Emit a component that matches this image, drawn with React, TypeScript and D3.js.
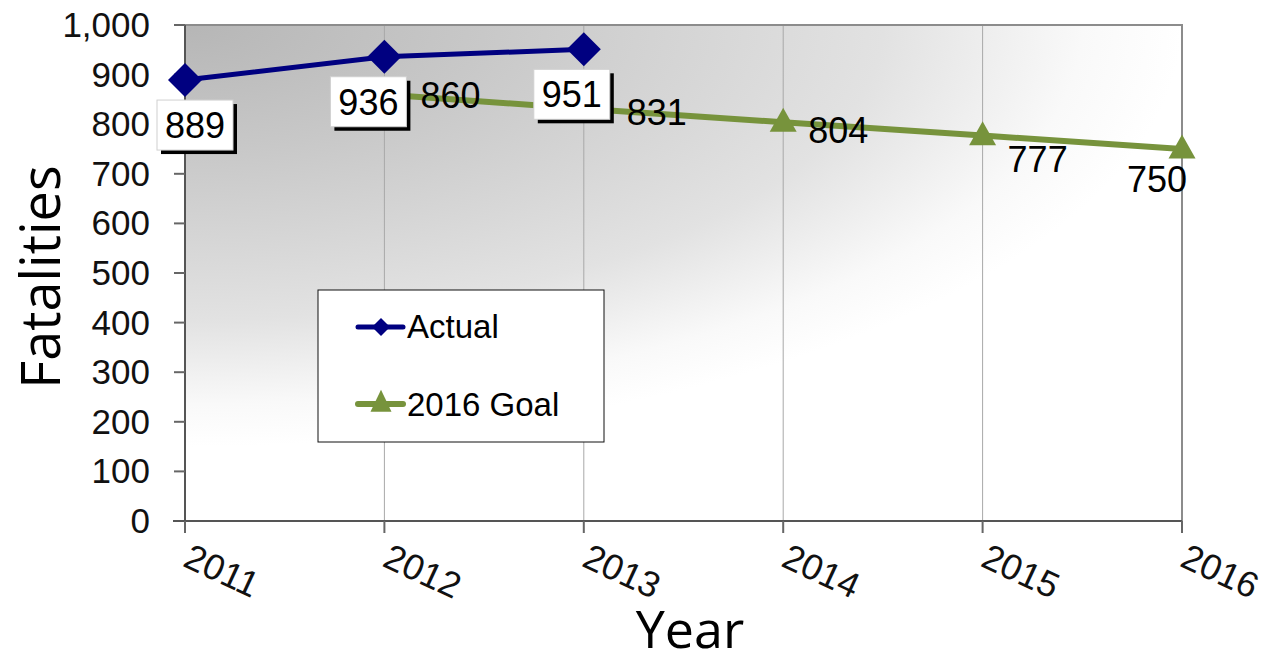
import React from "react";
import * as d3 from "d3";

const years = ["2011", "2012", "2013", "2014", "2015", "2016"];
const actualYears = ["2011", "2012", "2013"];
const actualValues = [889, 936, 951];
const goalYears = ["2012", "2013", "2014", "2015", "2016"];
const goalValues = [860, 831, 804, 777, 750];
const yTicks = [0, 100, 200, 300, 400, 500, 600, 700, 800, 900, 1000];

// label offsets (px) the way the spreadsheet placed them
const actualLabelDx = [10, -16, -12];
const goalLabelDx = [36, 43, 25, 25, -55];
const goalLabelDy = [14, 16, 21, 36, 43];

const W = 1276;
const H = 664;
const margin = { top: 25, right: 94, bottom: 143, left: 185 };
const NAVY = "#000080";
const GREEN = "#77933C";
const ARIAL = "'Liberation Sans', Arial, sans-serif";
const TITLE = "'Open Sans', 'DejaVu Sans', sans-serif";

const diamond = (r: number) => `M0,${-r}L${r},0L0,${r}L${-r},0Z`;
const triangle = (w: number, h: number) =>
  `M0,${-h * 0.6}L${w / 2},${h * 0.4}L${-w / 2},${h * 0.4}Z`;

export default function App() {
  const x = d3
    .scalePoint<string>()
    .domain(years)
    .range([margin.left, W - margin.right]);
  const y = d3
    .scaleLinear()
    .domain([0, 1000])
    .range([H - margin.bottom, margin.top]);

  const x0 = margin.left;
  const x1 = W - margin.right;
  const y0 = H - margin.bottom;
  const y1 = margin.top;

  const line = d3
    .line<[string, number]>()
    .x((d) => x(d[0]) as number)
    .y((d) => y(d[1]));

  const actual = actualYears.map((k, i) => [k, actualValues[i]] as [string, number]);
  const goal = goalYears.map((k, i) => [k, goalValues[i]] as [string, number]);

  return (
    <svg
      width={W}
      height={H}
      style={{ position: "absolute", left: 0, top: 0, background: "#fff" }}
    >
      <defs>
        <radialGradient
          id="bg"
          cx="0"
          cy="0"
          r="1"
          fx="0"
          fy="0"
          gradientTransform="scale(1,0.85)"
        >
          <stop offset="0" stopColor="#b6b6b6" />
          <stop offset="0.3" stopColor="#c8c8c8" />
          <stop offset="0.7" stopColor="#e2e2e2" />
          <stop offset="0.9" stopColor="#f9f9f9" />
          <stop offset="1" stopColor="#ffffff" />
        </radialGradient>
      </defs>

      <rect x={x0} y={y1} width={x1 - x0} height={y0 - y1} fill="url(#bg)" />

      {/* vertical gridlines */}
      {years.slice(1).map((k) => (
        <line
          key={k}
          x1={x(k)}
          x2={x(k)}
          y1={y1}
          y2={y0}
          stroke="#a8a8a8"
          strokeWidth={1}
        />
      ))}
      {/* plot border top/right */}
      <path
        d={`M${x0},${y1}H${x1}V${y0}`}
        fill="none"
        stroke="#8c8c8c"
        strokeWidth={2}
      />

      {/* y axis */}
      <line x1={x0} x2={x0} y1={y1} y2={y0} stroke="#555" strokeWidth={2} />
      {yTicks.map((t) => (
        <g key={t}>
          <line x1={x0 - 11} x2={x0} y1={y(t)} y2={y(t)} stroke="#666" strokeWidth={2} />
          <text
            x={x0 - 35}
            y={y(t) + 12}
            textAnchor="end"
            fontFamily={ARIAL}
            fontSize={35}
            fill="#111"
          >
            {d3.format(",")(t)}
          </text>
        </g>
      ))}

      {/* x axis */}
      <line x1={x0 - 12} x2={x1} y1={y0} y2={y0} stroke="#555" strokeWidth={2} />
      {years.map((k) => (
        <g key={k}>
          <line
            x1={x(k)}
            x2={x(k)}
            y1={y0}
            y2={y0 + 12}
            stroke="#666"
            strokeWidth={2}
          />
          <text
            transform={`translate(${(x(k) as number) + 8},${y0 + 20}) rotate(25)`}
            dy="0.75em"
            fontFamily={ARIAL}
            fontSize={36}
            fill="#111"
          >
            {k}
          </text>
        </g>
      ))}

      {/* goal series */}
      <path d={line(goal) || ""} fill="none" stroke={GREEN} strokeWidth={6} />
      {goal.map((d) => (
        <path
          key={d[0]}
          d={triangle(27, 24)}
          transform={`translate(${x(d[0])},${y(d[1])})`}
          fill={GREEN}
        />
      ))}

      {/* actual series */}
      <path d={line(actual) || ""} fill="none" stroke={NAVY} strokeWidth={5} />
      {actual.map((d) => (
        <path
          key={d[0]}
          d={diamond(17)}
          transform={`translate(${x(d[0])},${y(d[1])})`}
          fill={NAVY}
        />
      ))}

      {/* goal labels */}
      {goal.map((d, i) => (
        <text
          key={d[0]}
          x={(x(d[0]) as number) + goalLabelDx[i]}
          y={y(d[1]) + goalLabelDy[i]}
          fontFamily={ARIAL}
          fontSize={36}
          fill="#000"
        >
          {d[1]}
        </text>
      ))}

      {/* actual labels (boxed) */}
      {actual.map((d, i) => {
        const cx = (x(d[0]) as number) + actualLabelDx[i];
        const cy = y(d[1]) + 45;
        return (
          <g key={d[0]}>
            <rect x={cx - 38 + 4} y={cy - 25 + 4} width={76} height={50} fill="#000" />
            <rect
              x={cx - 38}
              y={cy - 25}
              width={76}
              height={50}
              fill="#fff"
              stroke="#d0d0d0"
              strokeWidth={1}
            />
            <text
              x={cx}
              y={cy + 13}
              textAnchor="middle"
              fontFamily={ARIAL}
              fontSize={36}
              fill="#000"
            >
              {d[1]}
            </text>
          </g>
        );
      })}

      {/* legend */}
      <rect x={318} y={290} width={286} height={152} fill="#fff" stroke="#111" strokeWidth={1} />
      <line x1={358} x2={403} y1={327} y2={327} stroke={NAVY} strokeWidth={5} strokeLinecap="round" />
      <path d={diamond(9)} transform="translate(381,327)" fill={NAVY} />
      <text x={407} y={338} fontFamily={ARIAL} fontSize={33} fill="#000">
        Actual
      </text>
      <line x1={358} x2={403} y1={404} y2={404} stroke={GREEN} strokeWidth={6} strokeLinecap="round" />
      <path d={triangle(21, 22)} transform="translate(381,403)" fill={GREEN} />
      <text x={407} y={416} fontFamily={ARIAL} fontSize={33} fill="#000">
        2016 Goal
      </text>

      {/* axis titles */}
      <text
        transform={`translate(60,${(y0 + y1) / 2 + 4}) rotate(-90)`}
        textAnchor="middle"
        fontFamily={TITLE}
        fontSize={54}
        fill="#000"
      >
        Fatalities
      </text>
      <text
        x={690}
        y={648}
        textAnchor="middle"
        fontFamily={TITLE}
        fontSize={52}
        fill="#000"
      >
        Year
      </text>
    </svg>
  );
}
